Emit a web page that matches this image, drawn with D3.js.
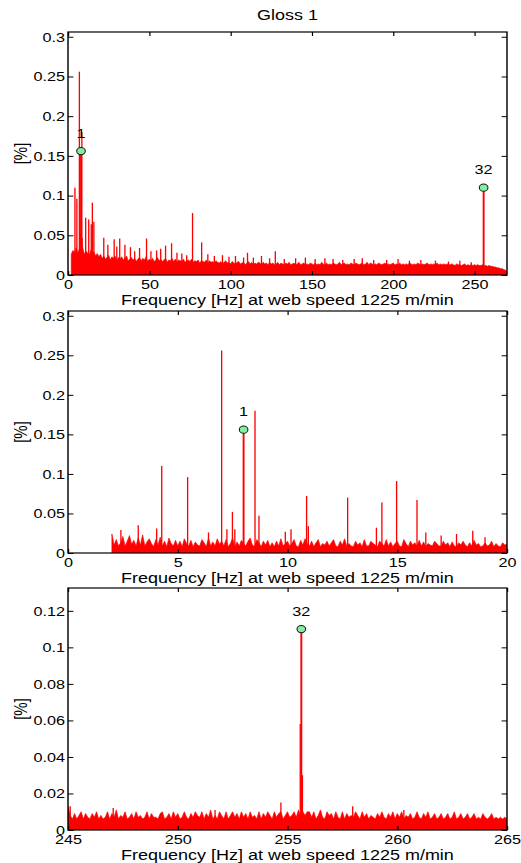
<!DOCTYPE html>
<html>
<head>
<meta charset="utf-8">
<script src="https://cdn.jsdelivr.net/npm/d3@7"></script>
<style>
  body { margin: 0; background: #fff; }
  svg { display: block; }
  text { font-family: "Liberation Sans", Arial, sans-serif; fill: #000; }
</style>
</head>
<body>
<svg id="chart"></svg>
<script>
// --- DATA (amplitudes in thousandths of a percent) ---
const UNIT = 0.001;

const title = 'Gloss 1';
const xLabel = 'Frequency [Hz] at web speed 1225 m/min';
const yLabel = '[%]';

const xTicksWide = [0, 50, 100, 150, 200, 250];
const xTicksLow = [0, 5, 10, 15, 20];
const xTicksHigh = [245, 250, 255, 260, 265];
const yTicksBig = [0, 0.05, 0.1, 0.15, 0.2, 0.25, 0.3];
const yTicksSmall = [0, 0.02, 0.04, 0.06, 0.08, 0.1, 0.12];
const yLimBig = 0.306;
const yLimSmall = 0.1325;

// noise floor, 2..270 Hz every 1 Hz
const noiseWideStart = 2, noiseWideStep = 1;
const noiseWide = [
  26,31,28,34,27,33,29,35,26,30, 28,25,31,26,29,24,27,23,26,21,
  24,20,22,25,19,23,21,24,18,22, 20,23,19,21,24,18,20,22,19,21,
  17,20,22,18,21,19,23,17,20,18, 21,17,19,22,18,20,17,19,21,16,
  19,18,21,17,20,16,19,18,17,20, 16,18,19,17,20,16,18,17,19,15,
  18,17,16,19,15,18,16,17,15,18, 16,15,17,14,16,18,15,16,14,17,
  15,14,16,17,14,15,16,13,15,17, 14,16,13,15,14,16,15,13,16,14,
  15,13,16,14,15,13,14,16,13,15, 14,13,15,14,16,13,14,15,13,14,
  16,13,14,15,13,14,13,15,14,13, 15,13,14,13,16,14,13,15,13,14,
  13,15,14,13,14,16,13,14,15,13, 14,13,15,14,13,15,14,13,14,15,
  13,14,16,13,15,14,13,14,13,15, 14,13,14,15,13,14,13,14,15,13,
  14,13,15,13,14,13,14,13,15,14, 13,14,13,15,14,13,14,13,14,15,
  13,14,13,14,13,15,13,14,13,14, 13,14,13,13,14,13,12,14,13,13,
  12,13,14,12,13,12,13,12,13,12, 13,12,12,13,12,12,11,12,11,11,
  10,10,9,9,8,8,7,6,5
];

// noise floor, 2..20 Hz every 0.1 Hz
const noiseLowStart = 2, noiseLowStep = 0.1;
const noiseLow = [
  24,10,17,9,13,21,9,15,22,11,  16,9,19,10,23,9,14,18,12,8,
  17,10,20,9,15,8,19,12,9,16,   9,15,8,18,12,9,16,8,14,10,
  9,17,13,8,19,9,14,9,18,11,    15,9,17,8,12,19,8,14,9,16,
  12,9,15,19,10,8,17,13,8,15,   10,16,8,13,8,15,9,18,9,12,
  15,9,12,17,9,8,16,10,18,12,   9,15,8,13,17,8,12,10,15,9,
  13,17,9,8,15,10,18,9,12,9,    8,15,10,13,8,17,9,9,15,12,
  10,8,15,12,9,17,9,14,8,12,    15,9,8,17,12,8,15,10,13,9,
  16,9,14,8,12,10,9,15,12,9,    9,15,10,13,8,14,9,8,13,10,
  15,10,8,13,9,16,10,12,8,9,    13,9,10,15,8,12,9,8,13,10,
  11
];

// noise floor, 245..265 Hz every 0.1 Hz
const noiseHighStart = 245, noiseHighStep = 0.1;
const noiseHigh = [
  13,8,6,9,6,8,10,6,9,7,   6,9,7,10,6,8,6,7,10,6,
  9,7,11,6,8,7,10,6,7,9,   6,10,7,8,6,7,10,6,9,7,
  7,6,9,10,6,7,9,6,10,7,   9,6,7,10,7,6,9,7,10,8,
  7,10,6,9,7,11,6,8,6,10,  8,6,10,6,8,10,7,9,6,10,
  7,9,6,10,7,8,6,10,6,9,   7,10,8,6,10,7,9,10,6,8,
  10,7,8,10,7,11,7,10,8,10, 10,7,10,6,8,11,7,6,10,8,
  9,6,10,7,6,10,6,9,7,8,   7,10,8,6,10,7,9,6,8,7,
  6,9,7,10,7,6,9,7,10,6,   9,7,10,6,8,7,9,6,7,10,
  7,6,9,7,10,6,7,9,6,7,    9,6,7,9,6,7,10,6,7,9,
  6,7,9,6,7,9,6,7,6,9,     7,6,7,9,6,7,6,7,6,7,
  6
];

// main peaks below 20 Hz [Hz, value]
const peaksLow = [
  [4.27, 110], [5.45, 96], [7.0, 256], [7.49, 52], [8.52, 180], [8.7, 47],
  [10.87, 72], [12.74, 70], [14.3, 64], [14.97, 91], [15.9, 67]
];
// small spikes seen only in the 0-20 Hz zoom
const spikesLow = [
  [2.41, 29], [3.2, 35], [4.04, 31], [6.4, 26], [7.24, 30], [7.6, 30],
  [9.9, 27], [10.16, 30], [10.95, 34], [14.05, 32], [16.3, 26], [17.0, 22],
  [17.7, 24], [18.44, 28], [19.0, 20]
];
// spikes above 20 Hz in the full spectrum
const spikesWide = [
  [22, 47], [24.5, 38], [28.4, 45], [30, 36], [31.8, 46], [35, 38], [38.4, 35],
  [41, 30], [44, 34], [48.3, 46], [51, 30], [54.5, 31], [57, 33], [60, 37],
  [63.7, 40], [67, 28], [70, 27], [73, 25], [76.6, 78], [82.2, 41], [86, 26],
  [90, 24], [95, 25], [99, 23], [103, 24], [108, 22], [110.4, 28], [114, 22],
  [119, 24], [124, 21], [127.5, 30], [133, 20], [140, 21], [146, 22], [152, 20],
  [158, 21], [163, 20], [169, 19], [176, 20], [181, 21], [188, 19], [196, 19],
  [203, 20], [210, 18], [217, 19], [226, 18], [234, 17], [241, 18], [248, 16]
];
// spikes in the 245-265 Hz zoom
const spikesHigh = [
  [245.1, 13], [247.06, 12], [251.7, 11], [254.7, 15], [255.58, 58],
  [255.68, 30], [257.97, 13], [260.3, 11]
];
// labelled peaks
const markerIds = ['1', '32'];
const markerFreqs = [8.0, 255.63];
const markerValues = [156, 110];

// --- LAYOUT ---
const SX = 1.2;                 // picture is stretched horizontally
const W = 521, H = 863, VW = W / SX;
const left = 68 / SX, right = 507 / SX;
const frames = [{ top: 32, bottom: 275 }, { top: 311, bottom: 553 }, { top: 588, bottom: 830 }];
const RED = '#ff0000';

const panels = [
  { xDomain: [0, 270], yMax: yLimBig, xTicks: xTicksWide, yTicks: yTicksBig,
    noise: noiseWide, start: noiseWideStart, step: noiseWideStep, spikes: peaksLow.concat(spikesWide) },
  { xDomain: [0, 20], yMax: yLimBig, xTicks: xTicksLow, yTicks: yTicksBig,
    noise: noiseLow, start: noiseLowStart, step: noiseLowStep, spikes: peaksLow.concat(spikesLow) },
  { xDomain: [245, 265], yMax: yLimSmall, xTicks: xTicksHigh, yTicks: yTicksSmall,
    noise: noiseHigh, start: noiseHighStart, step: noiseHighStep, spikes: spikesHigh }
];

const svg = d3.select('#chart')
  .attr('width', W).attr('height', H)
  .attr('viewBox', `0 0 ${VW} ${H}`)
  .attr('preserveAspectRatio', 'none');

svg.append('text')
  .attr('x', (left + right) / 2).attr('y', 20)
  .attr('text-anchor', 'middle').attr('font-size', 15)
  .text(title);

panels.forEach((p, i) => {
  const f = frames[i];
  const x = d3.scaleLinear().domain(p.xDomain).range([left, right]);
  const y = d3.scaleLinear().domain([0, p.yMax]).range([f.bottom, f.top]);
  const g = svg.append('g');

  g.append('clipPath').attr('id', 'clip' + i)
    .append('rect').attr('x', left).attr('y', f.top)
    .attr('width', right - left).attr('height', f.bottom - f.top);

  const plot = g.append('g').attr('clip-path', `url(#clip${i})`);

  // noise floor
  const area = d3.area()
    .x((d, j) => x(p.start + j * p.step))
    .y0(y(0))
    .y1(d => y(d * UNIT));
  plot.append('path')
    .datum(p.noise)
    .attr('d', area)
    .attr('fill', RED).attr('stroke', RED).attr('stroke-width', 0.6);

  // spikes
  plot.selectAll('line.spike')
    .data(p.spikes.filter(d => d[0] >= p.xDomain[0] && d[0] <= p.xDomain[1]))
    .join('line').attr('class', 'spike')
    .attr('x1', d => x(d[0])).attr('x2', d => x(d[0]))
    .attr('y1', y(0)).attr('y2', d => y(d[1] * UNIT))
    .attr('stroke', RED).attr('stroke-width', 1.1);

  // labelled peaks
  const marks = markerIds.map((id, k) => ({ id, f: markerFreqs[k], v: markerValues[k] * UNIT }))
    .filter(d => d.f >= p.xDomain[0] && d.f <= p.xDomain[1]);
  plot.selectAll('line.stem').data(marks).join('line').attr('class', 'stem')
    .attr('x1', d => x(d.f)).attr('x2', d => x(d.f))
    .attr('y1', y(0)).attr('y2', d => y(d.v))
    .attr('stroke', RED).attr('stroke-width', 1.6);
  g.selectAll('circle.mark').data(marks).join('circle').attr('class', 'mark')
    .attr('cx', d => x(d.f)).attr('cy', d => y(d.v)).attr('r', 3.6)
    .attr('fill', '#80f0a0').attr('stroke', '#1a1a1a').attr('stroke-width', 0.9);
  g.selectAll('text.mark').data(marks).join('text').attr('class', 'mark')
    .attr('x', d => x(d.f)).attr('y', d => y(d.v) - 13.5)
    .attr('text-anchor', 'middle').attr('font-size', 13.5)
    .text(d => d.id);

  // axes (ticks point inward, box on)
  const styleAxis = sel => {
    sel.select('.domain').remove();
    sel.attr('font-size', 13.5).attr('font-family', '"Liberation Sans", Arial, sans-serif');
    sel.selectAll('line').attr('stroke', '#000');
  };
  g.append('g').attr('transform', `translate(0,${f.bottom})`)
    .call(d3.axisBottom(x).tickValues(p.xTicks).tickSizeInner(-4).tickSizeOuter(0)
      .tickPadding(4).tickFormat(d => String(d)))
    .call(styleAxis);
  g.append('g').attr('transform', `translate(0,${f.top})`)
    .call(d3.axisTop(x).tickValues(p.xTicks).tickSizeInner(-4).tickSizeOuter(0).tickFormat(''))
    .call(styleAxis);
  g.append('g').attr('transform', `translate(${left},0)`)
    .call(d3.axisLeft(y).tickValues(p.yTicks).tickSizeInner(-4.5).tickSizeOuter(0)
      .tickPadding(2.5).tickFormat(d => String(d)))
    .call(styleAxis);
  g.append('g').attr('transform', `translate(${right},0)`)
    .call(d3.axisRight(y).tickValues(p.yTicks).tickSizeInner(-4.5).tickSizeOuter(0).tickFormat(''))
    .call(styleAxis);

  g.append('rect')
    .attr('x', left).attr('y', f.top)
    .attr('width', right - left).attr('height', f.bottom - f.top)
    .attr('fill', 'none').attr('stroke', '#000').attr('stroke-width', 1.2);

  g.append('text')
    .attr('x', (left + right) / 2).attr('y', f.bottom + 30)
    .attr('text-anchor', 'middle').attr('font-size', 15)
    .text(xLabel);

  g.append('text')
    .attr('transform', `translate(${21 / SX},${(f.top + f.bottom) / 2}) rotate(-90)`)
    .attr('text-anchor', 'middle').attr('dy', '0.35em').attr('font-size', 15)
    .text(yLabel);
});
</script>
</body>
</html>
